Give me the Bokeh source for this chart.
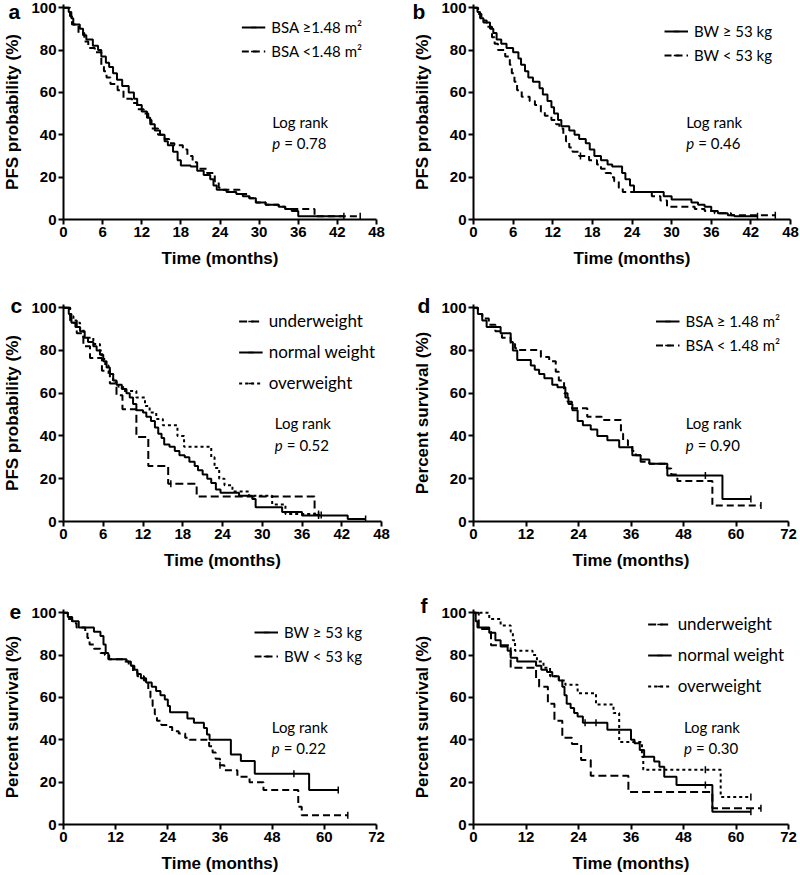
import numpy as np
from bokeh.plotting import figure
from bokeh.models import Range1d, FixedTicker, Label, Legend, LegendItem
from bokeh.layouts import column, row
from bokeh.embed import file_html
from bokeh.resources import INLINE

# ---------------- data ----------------
# Panel a: PFS by BSA
A_HI_T = [0, 0.8, 1.2, 1.5, 2.5, 3.0, 3.5, 4.5, 5.3, 5.8, 6.5, 7.0, 7.6, 8.2, 9.0, 10.0, 10.8, 11.3, 12.0, 12.8,
          13.3, 14.0, 14.8, 15.5, 16.0, 16.8, 17.5, 18.0, 19.5, 20.5, 21.5, 22.5, 23.0, 23.5, 25.0, 26.5, 27.5,
          28.5, 29.5, 31.0, 33.0, 34.0, 35.0, 36.0]
A_HI_S = [100, 98, 95, 92, 90, 87, 85, 82, 80, 77, 74, 72, 69, 66, 63, 60, 57, 54, 51, 48,
          45, 42, 40, 37, 35, 32, 28, 25.5, 25, 23, 21, 19, 16, 14, 13, 12, 11,
          10, 8, 7, 6, 5, 4, 1.5]
A_HI_END = 43
A_HI_CENS = [43]
A_LO_T = [0, 1.0, 1.3, 2.3, 3.2, 3.8, 4.8, 5.8, 6.2, 6.6, 7.2, 8.3, 9.2, 10.5, 11.3, 12.3, 13.0, 13.5, 14.5, 15.5,
          16.2, 17.0, 18.3, 19.0, 19.8, 20.5, 22.0, 23.2, 23.8, 24.5, 27.0, 28.5, 29.5, 31.0, 33.0, 34.0, 38.5]
A_LO_S = [100, 96, 92, 88, 84, 81, 79, 73, 70, 67, 64, 61, 57, 55, 52, 50, 47, 43, 40, 38,
          36, 35, 33, 30, 27, 24, 22, 18, 15, 14, 12, 10, 8, 7, 6, 5, 1.5]
A_LO_END = 45.5
A_LO_CENS = [45.5]

# Panel b: PFS by body weight
B_HI_T = [0, 0.6, 1.0, 1.5, 2.5, 3.0, 3.5, 4.2, 5.0, 6.0, 6.8, 7.2, 7.8, 8.3, 9.0, 10.0, 10.5, 11.2, 11.8, 12.2,
          12.8, 13.3, 14.5, 15.3, 16.0, 17.0, 17.6, 18.3, 19.3, 20.3, 21.0, 22.5, 23.0, 23.7, 24.3, 28.8, 30.0,
          33.0, 34.0, 35.0, 36.0, 37.0, 38.5, 39.5]
B_HI_S = [100, 98, 95, 93, 90, 88, 85, 83, 81, 79, 76, 73, 70, 67, 65, 62, 59, 56, 53, 50,
          47, 44, 42, 40, 38, 36, 33, 30, 28, 26, 25, 22, 19, 16, 13, 11, 9.5,
          8, 7, 6, 4, 3, 2, 1.5]
B_HI_END = 43
B_HI_CENS = [43]
B_LO_T = [0, 0.7, 1.2, 2.0, 2.8, 3.2, 3.7, 4.8, 5.5, 5.8, 6.2, 6.6, 7.3, 8.5, 9.3, 10.2, 10.8, 11.8, 12.5, 13.0,
          13.6, 14.0, 14.5, 15.0, 16.0, 17.5, 18.7, 19.3, 20.0, 20.8, 21.3, 22.0, 22.6, 27.0, 28.3, 29.3, 33.5,
          35.0, 36.5, 39.0]
B_LO_S = [100, 97, 94, 91, 86, 83, 80, 77, 73, 69, 65, 61, 58, 56, 54, 51, 49, 47, 45, 43,
          40, 37, 34, 32, 30, 28, 26, 24, 22, 20, 18, 15, 13, 11, 9, 6, 5,
          4, 3, 2]
B_LO_END = 45.7
B_LO_CENS = [16.2, 45.7]

# Panel c: PFS by BMI group
C_UW_T = [0, 1.0, 2.0, 3.0, 4.0, 5.8, 7.0, 8.0, 8.9, 11.0, 12.8, 15.8, 20.1, 37.9]
C_UW_S = [100, 94, 88, 82, 76.5, 70.5, 64.5, 59, 52.5, 39.5, 26, 17.6, 11.7, 3]
C_UW_END = 38.9
C_UW_CENS = [16.2, 38.9]
C_NW_T = [0, 0.8, 1.2, 1.8, 2.5, 3.2, 3.7, 4.5, 5.0, 5.5, 6.0, 6.5, 7.0, 7.5, 8.0, 8.8, 9.5, 10.0, 10.5, 11.0,
          12.0, 12.5, 13.2, 13.8, 14.3, 14.8, 15.2, 16.0, 16.8, 17.5, 18.3, 19.0, 19.8, 20.3, 21.0, 21.7, 22.3,
          23.0, 23.7, 26.5, 28.5, 29.0, 33.0, 36.0, 42.9]
C_NW_S = [100, 97, 93, 91, 89, 86, 84, 82, 80, 78, 75, 72, 69, 66, 64, 62, 60, 58, 55, 52,
          51, 49, 47, 44, 41, 39, 36, 35, 33, 31, 30, 28, 26, 24, 22, 20, 18,
          15, 13.5, 12, 10.5, 6.7, 4.4, 2.8, 1.2]
C_NW_END = 45.6
C_NW_CENS = [38.5, 45.6]
C_OW_T = [0, 1.0, 1.5, 2.5, 3.0, 4.5, 5.5, 5.8, 6.3, 6.8, 7.5, 8.3, 9.0, 11.0, 12.3, 13.0, 14.0, 15.0, 17.2, 18.2,
          22.3, 22.8, 23.5, 24.3, 25.5, 28.0, 31.5, 33.5]
C_OW_S = [100, 96, 93, 90, 86, 83, 80, 76, 73, 69, 65, 63, 61, 58, 54, 51, 48, 45, 40, 35,
          30, 25, 20, 17, 14, 12, 8, 3.5]
C_OW_END = 38.5
C_OW_CENS = [38.5]

# Panel d: OS by BSA
D_HI_T = [0, 1.0, 2.0, 3.0, 6.2, 8.5, 9.0, 10.0, 13.1, 14.0, 15.0, 16.2, 18.0, 19.2, 21.0, 21.7, 22.6, 23.8, 25.0,
          26.8, 28.3, 30.6, 33.3, 36.3, 38.2, 40.2, 44.3, 56.9]
D_HI_S = [100, 97, 94, 91, 88, 84, 80, 75.5, 73, 71, 69, 67, 64, 62.8, 58, 55, 52, 47, 45,
          43, 40, 38, 34.7, 31, 29, 27, 21.5, 10.5]
D_HI_END = 63.4
D_HI_CENS = [53, 63.4]
D_LO_T = [0, 1.0, 2.0, 3.5, 5.0, 6.5, 8.5, 9.5, 10.4, 15.4, 17.3, 18.8, 19.5, 20.7, 21.5, 22.5, 26.0, 29.3, 33.7,
          34.2, 35.3, 36.3, 37.1, 38.2, 40.2, 44.2, 45.2, 46.6, 54.6]
D_LO_S = [100, 97, 95, 92, 89, 86, 83, 81, 80.2, 77, 75, 70, 66, 60, 56, 53, 49, 47.5, 41,
          38, 35.5, 33, 31, 28, 27, 24.8, 22, 19, 7.5]
D_LO_END = 65.7
D_LO_CENS = [65.7]

# Panel e: OS by body weight
E_HI_T = [0, 1.0, 2.0, 3.5, 7.0, 8.5, 9.2, 9.7, 10.3, 14.5, 15.5, 16.3, 17.0, 17.8, 19.0, 20.3, 21.3, 22.3, 23.3,
          24.0, 24.5, 28.5, 30.0, 32.3, 33.0, 33.6, 38.5, 40.8, 44.0, 56.5]
E_HI_S = [100, 98, 96, 93, 91, 89, 85, 81, 78, 77, 75, 73, 71, 69, 67, 65, 63, 61, 59,
          56, 53, 50, 48, 45.5, 42.5, 40, 33, 30, 24, 16.3]
E_HI_END = 63.2
E_HI_CENS = [53, 63.2]
E_LO_T = [0, 1.0, 2.0, 3.0, 5.0, 5.5, 6.0, 7.0, 8.5, 9.5, 10.5, 14.0, 15.0, 16.0, 17.0, 18.5, 19.5, 20.0, 20.5,
          21.0, 21.5, 22.5, 24.0, 25.0, 26.5, 28.0, 29.0, 33.5, 34.3, 35.0, 36.0, 37.0, 40.0, 42.8, 46.0, 54.0, 54.8]
E_LO_S = [100, 97, 95, 93, 91, 88, 85, 83, 81, 80, 78, 77, 75, 72, 70, 68, 64, 60, 56,
          52, 49, 47, 46, 44, 43, 41, 40, 37, 34, 31, 28, 25.6, 22.6, 20, 16.3, 8.4, 4.4]
E_LO_END = 65.4
E_LO_CENS = [36, 65.4]

# Panel f: OS by BMI group
F_UW_T = [0, 1.2, 4.0, 8.5, 14.3, 15.0, 17.0, 18.5, 20.3, 22.5, 24.6, 26.8, 35.4, 54.6]
F_UW_S = [100, 92.3, 84.6, 74, 69, 65, 57, 49, 41, 38, 30.5, 23, 15.3, 7.7]
F_UW_END = 65.7
F_UW_CENS = [65.7]
F_NW_T = [0, 0.5, 0.9, 3.6, 5.0, 6.2, 7.8, 8.5, 10.0, 14.3, 15.5, 16.8, 18.0, 19.5, 20.3, 20.8, 21.3, 22.2, 23.0,
          23.8, 25.0, 30.6, 36.0, 36.8, 38.0, 39.0, 41.3, 42.5, 43.6, 46.4, 54.6]
F_NW_S = [100, 96, 93, 90.5, 87, 84, 82, 78.7, 77, 75, 73, 72, 70, 68, 65, 61, 57, 55, 52.6,
          51, 48, 44.7, 40, 38.4, 35.2, 32, 29.7, 27.3, 22.6, 18.6, 6]
F_NW_END = 63.4
F_NW_CENS = [25.5, 28, 53, 63.4]
F_OW_T = [0, 3.6, 6.2, 8.5, 9.0, 9.5, 13.5, 14.5, 16.0, 17.5, 19.5, 21.0, 23.8, 28.0, 32.0, 33.3, 38.5, 38.8, 56.5]
F_OW_S = [100, 97, 94, 91, 87, 82, 80, 77, 74, 70, 68, 66, 62, 56.6, 52.6, 39, 32, 25.8, 13]
F_OW_END = 63.4
F_OW_CENS = [53, 63.4]

PFS_LABEL = "PFS probability (%)"
OS_LABEL = "Percent survival (%)"
X_LABEL = "Time (months)"
Y_TICKS = [0, 20, 40, 60, 80, 100]
PFS_X_TICKS = [0, 6, 12, 18, 24, 30, 36, 42, 48]
OS_X_TICKS = [0, 12, 24, 36, 48, 60, 72]
P_VALUES = ["0.78", "0.46", "0.52", "0.90", "0.22", "0.30"]

# ---------------- drawing ----------------
SOLID = "solid"
DASH = "7 4"
LONGDASH = "8 4"
DOT = "3 3"
TEXT_FONT = "Lato"
AXIS_FONT = "Liberation Sans"


def surv_at(T, S, t):
    idx = 0
    for i, tt in enumerate(T):
        if tt <= t:
            idx = i
    return S[idx]


def panel(letter, letter_dx, letter_dy, xticks, ylabel, series, pval, lr_x, W, H, borders, leg):
    left, right, top, bottom = borders
    p = figure(width=W, height=H, output_backend="svg", toolbar_location=None,
               x_range=Range1d(0, xticks[-1]), y_range=Range1d(0, 101.5))
    p.min_border_left = left
    p.min_border_right = right
    p.min_border_top = top
    p.min_border_bottom = bottom
    p.outline_line_color = None
    p.xgrid.visible = False
    p.ygrid.visible = False
    p.background_fill_color = "white"
    p.border_fill_color = "white"

    # panel letter as a left-shifted title, pulled down beside the y axis top
    p.title.text = letter
    p.title.text_font = AXIS_FONT
    p.title.text_font_style = "bold"
    p.title.text_font_size = "21px"
    p.title.text_color = "black"
    p.title.align = "left"
    p.title.offset = letter_dx - left
    p.title.standoff = -2 * (letter_dy + 12.5)

    p.xaxis.ticker = FixedTicker(ticks=xticks)
    p.yaxis.ticker = FixedTicker(ticks=Y_TICKS)
    p.xaxis.axis_label = X_LABEL
    p.yaxis.axis_label = ylabel
    for ax in (p.xaxis, p.yaxis):
        ax.axis_line_width = 2
        ax.axis_line_color = "black"
        ax.major_tick_line_width = 2
        ax.major_tick_line_color = "black"
        ax.major_tick_in = 0
        ax.major_tick_out = 5
        ax.minor_tick_line_color = None
        ax.major_label_text_font = AXIS_FONT
        ax.major_label_text_font_style = "bold"
        ax.major_label_text_font_size = "15px"
        ax.major_label_text_color = "black"
        ax.major_label_standoff = 2
        ax.axis_label_text_font = AXIS_FONT
        ax.axis_label_text_font_style = "bold"
        ax.axis_label_text_font_size = "17px"
        ax.axis_label_text_color = "black"
    p.xaxis.axis_label_standoff = 9
    p.yaxis.axis_label_standoff = 6

    items = []
    for label, T, S, end, cens, dash in series:
        xs = list(T) + [end]
        ys = list(S) + [S[-1]]
        r = p.step(xs, ys, mode="after", line_color="black", line_width=2, line_dash=dash)
        cy = [surv_at(T, S, c) for c in cens]
        m = p.scatter(cens, cy, marker="dash", angle=np.pi / 2, size=7,
                      line_color="black", line_width=1.5)
        items.append(LegendItem(label=label, renderers=[r, m]))

    fs, spacing, margin = leg
    lg = Legend(items=items, location="top_right", border_line_color=None,
                background_fill_alpha=0, label_text_font=TEXT_FONT,
                label_text_font_size=fs, label_text_color="black",
                glyph_width=24, glyph_height=14, label_height=14,
                spacing=spacing, padding=0, margin=margin, label_standoff=6)
    p.add_layout(lg)

    p.add_layout(Label(x=lr_x, y=46, text="Log rank", text_font=TEXT_FONT,
                       text_font_size="15px", text_baseline="middle", text_color="black"))
    p.add_layout(Label(x=lr_x, y=36, text="p", text_font=TEXT_FONT, text_font_style="italic",
                       text_font_size="15px", text_baseline="middle", text_color="black"))
    p.add_layout(Label(x=lr_x, y=36, x_offset=12, text="= " + pval, text_font=TEXT_FONT,
                       text_font_size="15px", text_baseline="middle", text_color="black"))
    return p


pa = panel("a", 5, 6, PFS_X_TICKS, PFS_LABEL,
           [("BSA \u22651.48 m\u00b2", A_HI_T, A_HI_S, A_HI_END, A_HI_CENS, SOLID),
            ("BSA <1.48 m\u00b2", A_LO_T, A_LO_S, A_LO_END, A_LO_CENS, DASH)],
           P_VALUES[0], 32.0, 400, 290, (60, 24, 4, 71), ("15px", 6, 14))
pb = panel("b", 12, 6, PFS_X_TICKS, PFS_LABEL,
           [("BW \u2265 53 kg", B_HI_T, B_HI_S, B_HI_END, B_HI_CENS, SOLID),
            ("BW < 53 kg", B_LO_T, B_LO_S, B_LO_END, B_LO_CENS, DASH)],
           P_VALUES[1], 32.2, 400, 290, (73, 10, 4, 71), ("15px", 6, 18))
pc = panel("c", 7, 0, PFS_X_TICKS, PFS_LABEL,
           [("underweight", C_UW_T, C_UW_S, C_UW_END, C_UW_CENS, LONGDASH),
            ("normal weight", C_NW_T, C_NW_S, C_NW_END, C_NW_CENS, SOLID),
            ("overweight", C_OW_T, C_OW_S, C_OW_END, C_OW_CENS, DOT)],
           P_VALUES[2], 31.9, 400, 290, (60, 19, 14, 59), ("17px", 10, 6))
pd_ = panel("d", 17, 0, OS_X_TICKS, OS_LABEL,
            [("BSA \u2265 1.48 m\u00b2", D_HI_T, D_HI_S, D_HI_END, D_HI_CENS, SOLID),
             ("BSA < 1.48 m\u00b2", D_LO_T, D_LO_S, D_LO_END, D_LO_CENS, DASH)],
            P_VALUES[3], 48.5, 400, 290, (73, 12, 14, 58), ("15px", 6, 8))
pe = panel("e", 5, -3, OS_X_TICKS, OS_LABEL,
           [("BW \u2265 53 kg", E_HI_T, E_HI_S, E_HI_END, E_HI_CENS, SOLID),
            ("BW < 53 kg", E_LO_T, E_LO_S, E_LO_END, E_LO_CENS, DASH)],
           P_VALUES[4], 47.9, 400, 295, (59, 24, 29, 51), ("15px", 6, 14))
pf = panel("f", 20, -5, OS_X_TICKS, OS_LABEL,
           [("underweight", F_UW_T, F_UW_S, F_UW_END, F_UW_CENS, LONGDASH),
            ("normal weight", F_NW_T, F_NW_S, F_NW_END, F_NW_CENS, SOLID),
            ("overweight", F_OW_T, F_OW_S, F_OW_END, F_OW_CENS, DOT)],
           P_VALUES[5], 48.1, 400, 295, (73, 12, 29, 51), ("17px", 10, 4))

layout = column(row(pa, pb), row(pc, pd_), row(pe, pf))
open("out.html", "w").write(file_html(layout, INLINE))
